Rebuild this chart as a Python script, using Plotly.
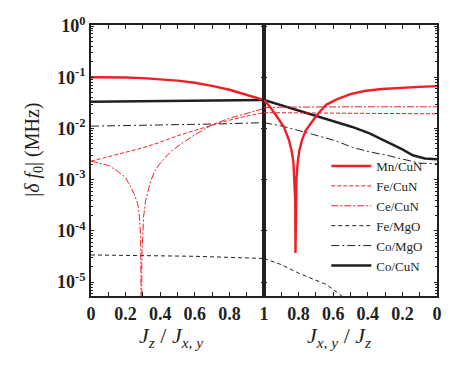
import plotly.graph_objects as go

# ---------------- data ----------------
# Left panel: x = Jz/Jxy ; right panel: x = Jxy/Jz (axis reversed, 1 -> 0)
mn_left_x = [0, 0.1, 0.2, 0.3, 0.4, 0.5, 0.6, 0.7, 0.8, 0.9, 1.0]
mn_left_y = [0.100, 0.100, 0.099, 0.096, 0.092, 0.086, 0.078, 0.068, 0.057, 0.046, 0.036]
mn_right_x = [1.00, 0.96, 0.92, 0.884, 0.855, 0.84, 0.83, 0.824, 0.8195, 0.818, 0.8165,
              0.812, 0.805, 0.795, 0.781, 0.76, 0.73, 0.69, 0.64, 0.58, 0.50, 0.42,
              0.32, 0.20, 0.10, 0.00]
mn_right_y = [0.036, 0.025, 0.016, 0.0105, 0.0058, 0.0036, 0.0022, 0.0011, 0.0004, 3.7e-5,
              0.0004, 0.0011, 0.0022, 0.0038, 0.0058, 0.0090, 0.0125, 0.019, 0.029, 0.037,
              0.047, 0.054, 0.059, 0.063, 0.065, 0.067]

fe_cun_left_x = [0, 0.1, 0.2, 0.3, 0.4, 0.5, 0.6, 0.7, 0.8, 0.9, 1.0]
fe_cun_left_y = [0.0023, 0.0028, 0.0034, 0.0042, 0.0054, 0.0072, 0.0092, 0.0117, 0.0145, 0.0175, 0.0204]
fe_cun_right_x = [1.0, 0.5, 0.0]
fe_cun_right_y = [0.0204, 0.0198, 0.0193]

ce_cun_left_x = [0, 0.05, 0.1, 0.15, 0.2, 0.23, 0.25, 0.27, 0.28, 0.287, 0.29, 0.292, 0.294,
                 0.297, 0.304, 0.316, 0.33, 0.345, 0.37, 0.4, 0.46, 0.52, 0.6, 0.7, 0.8, 0.9, 1.0]
ce_cun_left_y = [0.0023, 0.0021, 0.0019, 0.0015, 0.0011, 0.00071, 0.00052, 0.00034, 0.00019,
                 8.0e-5, 3.2e-5, 1e-7, 3.2e-5, 8.0e-5, 0.00019, 0.00039, 0.00063, 0.00095,
                 0.0015, 0.0021, 0.0035, 0.0050, 0.0075, 0.0118, 0.0158, 0.0200, 0.0245]
ce_cun_right_x = [1.0, 0.9, 0.5, 0.0]
ce_cun_right_y = [0.0255, 0.026, 0.0265, 0.0265]

fe_mgo_left_x = [0, 0.3, 0.6, 0.8, 1.0]
fe_mgo_left_y = [3.4e-5, 3.35e-5, 3.2e-5, 3.05e-5, 2.9e-5]
fe_mgo_right_x = [1.0, 0.9, 0.8, 0.7, 0.64, 0.6, 0.55, 0.5]
fe_mgo_right_y = [2.9e-5, 2.2e-5, 1.5e-5, 1.1e-5, 9.0e-6, 7.2e-6, 5.4e-6, 4.0e-6]

co_mgo_left_x = [0, 0.25, 0.5, 0.75, 1.0]
co_mgo_left_y = [0.0111, 0.0114, 0.0118, 0.0123, 0.013]
co_mgo_right_x = [1.0, 0.9, 0.77, 0.68, 0.59, 0.49, 0.39, 0.29, 0.2, 0.1, 0.0]
co_mgo_right_y = [0.013, 0.0112, 0.0086, 0.0071, 0.0058, 0.0043, 0.0035, 0.0030, 0.0025, 0.0021, 0.00205]

co_cun_left_x = [0, 0.5, 1.0]
co_cun_left_y = [0.0333, 0.0345, 0.036]
co_cun_right_x = [1.0, 0.866, 0.77, 0.67, 0.58, 0.49, 0.39, 0.29, 0.2, 0.14, 0.07, 0.0]
co_cun_right_y = [0.036, 0.0263, 0.0205, 0.0164, 0.0133, 0.0107, 0.0080, 0.0055, 0.0039, 0.0030, 0.0026, 0.0025]

left_tick_vals = [0, 0.2, 0.4, 0.6, 0.8, 1.0]
left_tick_text = ["0", "0.2", "0.4", "0.6", "0.8", "1"]
right_tick_vals = [0, 0.2, 0.4, 0.6, 0.8]
right_tick_text = ["0", "0.2", "0.4", "0.6", "0.8"]
y_tick_vals = [1, 0.1, 0.01, 0.001, 0.0001, 0.00001]
y_tick_text = ["10<sup>0</sup>", "10<sup>-1</sup>", "10<sup>-2</sup>", "10<sup>-3</sup>",
               "10<sup>-4</sup>", "10<sup>-5</sup>"]
y_minor_vals = [m * 10.0 ** e for e in range(-6, 0) for m in range(2, 10)]

RED = "#ec2027"
BLK = "#231f20"
SERIF = "Liberation Serif"

series = [
    ("Mn/CuN", mn_left_x, mn_left_y, mn_right_x, mn_right_y, RED, 2.4, "solid"),
    ("Fe/CuN", fe_cun_left_x, fe_cun_left_y, fe_cun_right_x, fe_cun_right_y, RED, 1.0, "4px,2px"),
    ("Ce/CuN", ce_cun_left_x, ce_cun_left_y, ce_cun_right_x, ce_cun_right_y, RED, 1.0, "7px,2px,2px,2px"),
    ("Fe/MgO", fe_mgo_left_x, fe_mgo_left_y, fe_mgo_right_x, fe_mgo_right_y, BLK, 1.0, "4px,3px"),
    ("Co/MgO", co_mgo_left_x, co_mgo_left_y, co_mgo_right_x, co_mgo_right_y, BLK, 1.0, "8px,3px,2px,3px"),
    ("Co/CuN", co_cun_left_x, co_cun_left_y, co_cun_right_x, co_cun_right_y, BLK, 2.4, "solid"),
]

fig = go.Figure()
draw_order = [5, 4, 3, 1, 2, 0]
for i in draw_order:
    name, lx, ly, rx, ry, col, w, dash = series[i]
    line = dict(color=col, width=w, dash=dash)
    fig.add_trace(go.Scatter(x=lx, y=ly, mode="lines", name=name, line=line,
                             legendgroup=name, legendrank=i + 1, xaxis="x", yaxis="y"))
    fig.add_trace(go.Scatter(x=rx, y=ry, mode="lines", name=name, line=line,
                             legendgroup=name, showlegend=False, xaxis="x2", yaxis="y2"))

tickfont = dict(family=SERIF, size=18, color=BLK, weight="bold")
common_x = dict(showline=True, linewidth=2, linecolor=BLK, mirror="ticks", ticks="inside",
                ticklen=4, tickwidth=1.2, tickcolor=BLK, showgrid=False, zeroline=False,
                tickfont=tickfont,
                minor=dict(ticks="inside", ticklen=4, tickwidth=1.2, tickcolor=BLK, dtick=0.1, tick0=0))
common_y = dict(type="log", range=[-5.27, 0.02], showline=True, linewidth=1.6, linecolor=BLK,
                mirror="ticks", ticks="inside", ticklen=3.5, tickwidth=1, tickcolor=BLK,
                showgrid=False, zeroline=False, tickvals=y_tick_vals, ticktext=y_tick_text,
                tickfont=tickfont,
                minor=dict(ticks="inside", ticklen=2, tickwidth=0.7, tickcolor=BLK, tickvals=y_minor_vals))

title_font = dict(family=SERIF, size=22, color=BLK)
fig.update_layout(
    width=468, height=370,
    margin=dict(l=91, r=31, t=25, b=74),
    paper_bgcolor="white", plot_bgcolor="white",
    xaxis=dict(domain=[0, 0.5], range=[0, 1], anchor="y",
               tickvals=left_tick_vals, ticktext=left_tick_text, **common_x),
    xaxis2=dict(domain=[0.5, 1], range=[1, 0], anchor="y2",
                tickvals=right_tick_vals, ticktext=right_tick_text, **common_x),
    yaxis=dict(anchor="x", **common_y),
    yaxis2=dict(anchor="x2", showticklabels=False, **common_y),
    showlegend=True,
    legend=dict(x=0.68, y=0.535, xanchor="left", yanchor="top", bgcolor="rgba(0,0,0,0)",
                font=dict(family=SERIF, size=13, color=BLK), itemwidth=40,
                tracegroupgap=0),
    annotations=[
        dict(text="<i>J</i><sub><i>z</i></sub> / <i>J</i><sub><i>x</i>, <i>y</i></sub>",
             xref="paper", yref="paper",
             x=0.231, y=-0.15, xanchor="center", yanchor="middle", showarrow=False,
             font=title_font),
        dict(text="<i>J</i><sub><i>x</i>, <i>y</i></sub> / <i>J</i><sub><i>z</i></sub>",
             xref="paper", yref="paper",
             x=0.717, y=-0.15, xanchor="center", yanchor="middle", showarrow=False,
             font=title_font),
        dict(text="|<i>δ f</i><sub>0</sub>| (MHz)", xref="paper", yref="paper",
             x=-0.165, y=0.539, xanchor="center", yanchor="middle", textangle=-90, showarrow=False,
             font=dict(family=SERIF, size=20, color=BLK)),
    ],
)

fig.write_html("out.html", post_script="document.body.style.margin='0';",
               config={"displayModeBar": False})
